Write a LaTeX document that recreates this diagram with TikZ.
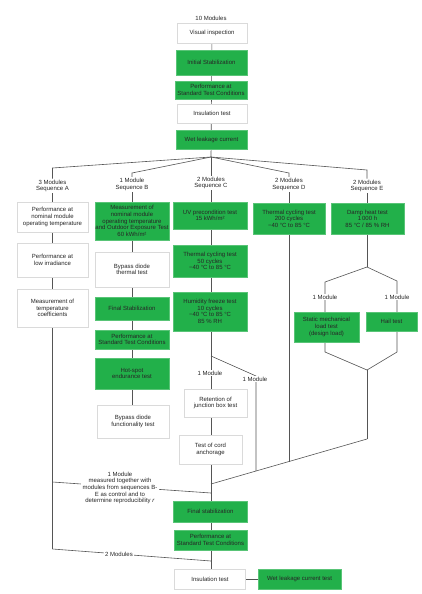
\documentclass[tikz,border=0pt]{standalone}
\usepackage{fontspec}
\setmainfont{Liberation Sans}
\usetikzlibrary{backgrounds}
\definecolor{gr}{RGB}{34,176,74}
\definecolor{ln}{RGB}{85,85,85}
\definecolor{bd}{RGB}{218,218,218}
\begin{document}
\begin{tikzpicture}[x=1pt,y=-1pt,
 every node/.style={font=\fontsize{6}{6.6}\selectfont, text=black!85, align=center, inner sep=0pt},
 gbox/.style={rectangle, fill=gr, draw=gr!75!white, line width=0.5pt},
 wbox/.style={rectangle, fill=white, draw=bd, line width=0.5pt},
 lab/.style={fill=white, inner sep=1pt},
 conn/.style={draw=ln, line width=0.6pt}]
\useasboundingbox (0,0) rectangle (421,594);

% top column
\node (mod10) at (211,18) {10 Modules};
\node[wbox, minimum width=70pt, minimum height=20pt] (vis) at (212,33) {Visual inspection};
\node[gbox, minimum width=71pt, minimum height=25pt] (init) at (211.5,62.5) {Initial Stabilization};
\node[gbox, minimum width=72pt, minimum height=18pt] (perf1) at (211,90) {Performance at\\Standard Test Conditions};
\node[wbox, minimum width=70pt, minimum height=19pt] (ins1) at (212,113.5) {Insulation test};
\node[gbox, minimum width=71pt, minimum height=19pt] (wet1) at (211.5,139.5) {Wet leakage current};
\coordinate (hub) at (211,157);

% sequence labels
\node[lab] (labA) at (52.5,186) {3 Modules\\Sequence A};
\node[lab] (labB) at (132,184.5) {1 Module\\Sequence B};
\node[lab] (labC) at (211,183) {2 Modules\\Sequence C};
\node[lab] (labD) at (289,184.5) {2 Modules\\Sequence D};
\node[lab] (labE) at (367,186) {2 Modules\\Sequence E};
\coordinate (fA) at (52.5,168);
\coordinate (fB) at (132,173);
\coordinate (fD) at (289,173);
\coordinate (fE) at (367,170);

% sequence A
\node[wbox, minimum width=71pt, minimum height=30pt] (a1) at (52.5,217) {Performance at\\nominal module\\operating temperature};
\node[wbox, minimum width=71pt, minimum height=34pt] (a2) at (52.5,260) {Performance at\\low irradiance};
\node[wbox, minimum width=71pt, minimum height=38pt] (a3) at (52.5,308) {Measurement of\\temperature\\coefficients};
\coordinate (cA1) at (52.5,482);
\coordinate (cA2) at (52.5,549);

% sequence B
\node[gbox, minimum width=74pt, minimum height=38pt] (b1) at (132,221) {Measurement of\\nominal module\\operating temperature\\and Outdoor Exposure Test\\60 kWh/m²};
\node[wbox, minimum width=74pt, minimum height=35pt] (b2) at (132,269.5) {Bypass diode\\thermal test};
\node[gbox, minimum width=74pt, minimum height=23pt] (b3) at (132,308.5) {Final Stabilization};
\node[gbox, minimum width=74pt, minimum height=19pt] (b4) at (132,339.5) {Performance at\\Standard Test Conditions};
\node[gbox, minimum width=74pt, minimum height=31pt] (b5) at (132,373.5) {Hot-spot\\endurance test};
\node[wbox, minimum width=72pt, minimum height=33pt] (b6) at (133,421.5) {Bypass diode\\functionality test};

% sequence C
\node[gbox, minimum width=74pt, minimum height=27pt] (c1) at (210,215.5) {UV precondition test\\15 kWh/m²};
\node[gbox, minimum width=74pt, minimum height=32pt] (c2) at (210,261) {Thermal cycling test\\50 cycles\\−40 °C to 85 °C};
\node[gbox, minimum width=74pt, minimum height=39pt] (c3) at (210,311.5) {Humidity freeze test\\10 cycles\\−40 °C to 85 °C\\85 \% RH};
\coordinate (cSplit) at (211,356);
\coordinate (kC) at (256,376);
\coordinate (cJ) at (256,471);
\node[wbox, minimum width=63pt, minimum height=28pt] (c4) at (215.5,403) {Retention of\\junction box test};
\node[wbox, minimum width=63pt, minimum height=29pt] (c5) at (210.5,449.5) {Test of cord\\anchorage};

% sequence D
\node[gbox, minimum width=72pt, minimum height=31pt] (d1) at (289,218.5) {Thermal cycling test\\200 cycles\\−40 °C to 85 °C};
\coordinate (dJ) at (289,461.5);

% sequence E
\node[gbox, minimum width=73pt, minimum height=31pt] (e1) at (367.5,218.5) {Damp heat test\\1\,000 h\\85 °C / 85 \% RH};
\coordinate (eSplit) at (367,267);
\coordinate (eL) at (325,282);
\coordinate (eR) at (397,281);
\node[gbox, minimum width=65pt, minimum height=30pt] (e2) at (326.5,327) {Static mechanical\\load test\\(design load)};
\node[gbox, minimum width=51pt, minimum height=19pt] (e3) at (391.5,321.5) {Hail test};
\coordinate (eL2) at (325,352);
\coordinate (eR2) at (397,352);
\coordinate (eJ) at (367,370);
\coordinate (eB) at (367,439);

% bottom column
\coordinate (cM0) at (211,484);
\coordinate (cM1) at (211,493);
\coordinate (cM2) at (211,561);
\node[gbox, minimum width=74pt, minimum height=21pt] (fin2) at (210.5,511.5) {Final stabilization};
\node[gbox, minimum width=73pt, minimum height=20pt] (perf2) at (210.5,540) {Performance at\\Standard Test Conditions};
\node[wbox, minimum width=71pt, minimum height=20pt] (ins2) at (210,579) {Insulation test};
\node[gbox, minimum width=83pt, minimum height=20pt] (wet2) at (299.5,579) {Wet leakage current test};

% labels on lines
\node[lab] (lC1) at (210,373) {1 Module};
\node[lab] (lC2) at (255,379) {1 Module};
\node[lab] (lE1) at (325,297) {1 Module};
\node[lab] (lE2) at (397,297) {1 Module};
\node[lab, inner sep=1.5pt] (lA1) at (120,488) {1 Module\\measured together with\\modules from sequences B-\\E as control and to\\determine reproducibility \textit{r}};
\node[lab, inner sep=1.5pt] (lA2) at (119,554) {2 Modules};

\begin{scope}[on background layer]
\fill[white] (0,0) rectangle (421,594);
\draw[conn] (vis) -- (hub);
\draw[conn] (hub) -- (fA) -- (labA);
\draw[conn] (hub) -- (fB) -- (labB);
\draw[conn] (hub) -- (labC);
\draw[conn] (hub) -- (fD) -- (labD);
\draw[conn] (hub) -- (fE) -- (labE);
\draw[conn] (labA) -- (cA2);
\draw[conn] (cA1) -- (cM1);
\draw[conn] (cA2) -- (cM2);
\draw[conn] (labB) -- (labB |- b6.north);
\draw[conn] (labC) -- (labC |- ins2.north);
\draw[conn] (cSplit) -- (kC) -- (cJ);
\draw[conn] (labD) -- (dJ);
\draw[conn] (labE) -- (eSplit);
\draw[conn] (eSplit) -- (eL) -- (eL2) -- (eJ);
\draw[conn] (eSplit) -- (eR) -- (eR2) -- (eJ);
\draw[conn] (eJ) -- (eB);
\draw[conn] (cM0) -- (cJ) -- (dJ) -- (eB);
\draw[conn] (ins2) -- (wet2);
\end{scope}
\end{tikzpicture}
\end{document}
